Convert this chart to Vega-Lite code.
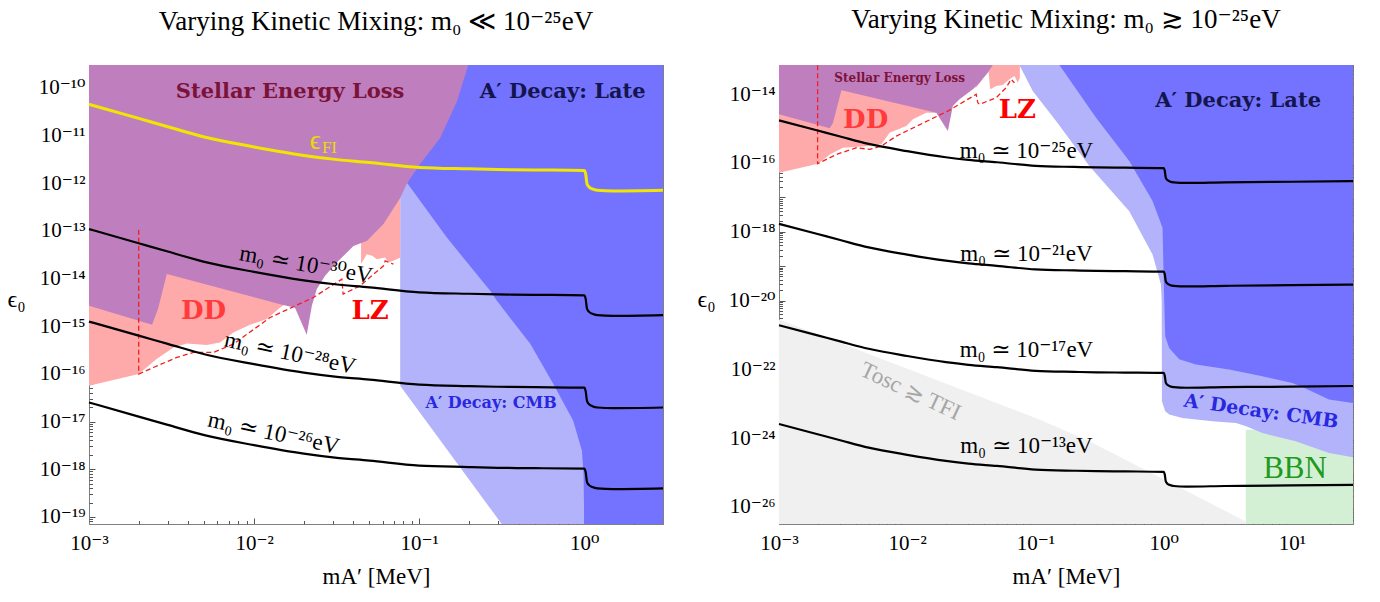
{
  "$schema": "https://vega.github.io/schema/vega-lite/v6.json",
  "padding": {"left": 7, "top": 5, "right": 27, "bottom": 10},
  "bounds": "flush",
  "spacing": 116,
  "config": {
    "view": {"stroke": null},
    "axis": {"domainColor": "#808080", "domainWidth": 1, "tickColor": "#555555", "tickWidth": 1, "labelFont": "Liberation Serif, DejaVu Serif", "labelFontSize": 21, "labelColor": "#000000", "titleFont": "Liberation Serif, DejaVu Serif", "titleFontSize": 23, "titleFontWeight": "normal", "titleColor": "#000000", "grid": false, "labelFlush": false, "labelOverlap": false, "zindex": 1},
    "title": {"font": "Liberation Serif, DejaVu Serif", "fontSize": 27, "fontWeight": "normal", "color": "#000000", "anchor": "middle", "baseline": "top", "offset": 29}
  },
  "hconcat": [
    {
      "width": 574, "height": 459,
      "title": {"text": "Varying Kinetic Mixing: m₀ ≪ 10⁻²⁵eV"},
      "resolve": {"axis": {"x": "independent", "y": "independent"}},
      "encoding": {
        "x": {"field": "m", "type": "quantitative", "scale": {"type": "log", "domain": [0.001, 3], "nice": false}, "axis": null},
        "y": {"field": "e", "type": "quantitative", "scale": {"type": "log", "domain": [7.08e-20, 3.02e-10], "nice": false}, "axis": null}
      },
      "layer": [
        {"data": {"values": [{"m":0.07674,"e":1.12e-12},{"m":0.08414,"e":1.03e-12},{"m":0.1472,"e":7.23e-14},{"m":0.2692,"e":5.52e-15},{"m":0.2958,"e":3.40e-15},{"m":0.471,"e":4.28e-16},{"m":0.6486,"e":6.19e-17},{"m":0.8576,"e":1.04e-17},{"m":0.9683,"e":2.44e-18},{"m":0.9903,"e":8.05e-19},{"m":1.0,"e":7.08e-20},{"m":3,"e":7.08e-20}]},
         "mark": {"type": "area", "color": "#7373ff", "clip": true},
         "encoding": {"y2": {"datum": 3.02e-10}}},
        {"data": {"values": [{"m":0.07674,"e":5.62e-17},{"m":0.3162,"e":7.08e-20},{"m":1.0,"e":7.08e-20}]},
         "mark": {"type": "area", "color": "#b3b3fb", "clip": true},
         "encoding": {"y2": {"datum": 3.02e-10}}},
        {"data": {"values": [{"m":0.07674,"e":1.12e-12},{"m":0.08414,"e":1.03e-12},{"m":0.1472,"e":7.23e-14},{"m":0.2692,"e":5.52e-15},{"m":0.2958,"e":3.40e-15},{"m":0.471,"e":4.28e-16},{"m":0.6486,"e":6.19e-17},{"m":0.8576,"e":1.04e-17},{"m":0.9683,"e":2.44e-18},{"m":0.9903,"e":8.05e-19},{"m":1.0,"e":7.08e-20},{"m":3,"e":7.08e-20}]},
         "mark": {"type": "area", "color": "#7373ff", "clip": true},
         "encoding": {"y2": {"datum": 3.02e-10}}},
        {"data": {"values": [{"m":0.001,"e":5.62e-17},{"m":0.002,"e":9.9e-17},{"m":0.00257,"e":2.04e-16},{"m":0.00325,"e":3.57e-16},{"m":0.00391,"e":4.34e-16},{"m":0.00516,"e":4.02e-16},{"m":0.00622,"e":4.55e-16},{"m":0.00749,"e":7.38e-16},{"m":0.00946,"e":1.07e-15},{"m":0.01194,"e":1.41e-15},{"m":0.01439,"e":2.47e-15},{"m":0.01564,"e":2.94e-15}]},
         "mark": {"type": "area", "color": "#ffaaaa", "clip": true},
         "encoding": {"y2": {"datum": 3.02e-10}}},
        {"data": {"values": [{"m":0.04446,"e":2.03e-14},{"m":0.04819,"e":3.24e-14},{"m":0.05188,"e":2.99e-14},{"m":0.05543,"e":2.55e-14},{"m":0.06223,"e":2.75e-14},{"m":0.06516,"e":2.16e-14},{"m":0.07328,"e":2.55e-14},{"m":0.07674,"e":2.75e-14}]},
         "mark": {"type": "area", "color": "#ffaaaa", "clip": true},
         "encoding": {"y2": {"datum": 3.02e-10}}},
        {"data": {"values": [{"m":0.001,"e":2.68e-15},{"m":0.00241,"e":1.07e-15},{"m":0.00262,"e":2.32e-15},{"m":0.00296,"e":1.24e-14},{"m":0.01439,"e":2.90e-15},{"m":0.0177,"e":2.43e-15},{"m":0.02084,"e":6.61e-16},{"m":0.02239,"e":2.68e-15},{"m":0.02399,"e":6.00e-15},{"m":0.02692,"e":1.14e-14},{"m":0.0317,"e":2.16e-14},{"m":0.04,"e":4.84e-14},{"m":0.04842,"e":6.17e-14},{"m":0.06081,"e":1.40e-13},{"m":0.07674,"e":4.92e-13},{"m":0.08455,"e":1.01e-12},{"m":0.1014,"e":2.54e-12},{"m":0.134,"e":8.91e-12},{"m":0.1698,"e":5.31e-11},{"m":0.1982,"e":3.02e-10}]},
         "mark": {"type": "area", "color": "#bf7fbf", "clip": true},
         "encoding": {"y2": {"datum": 3.02e-10}}},
        {"data": {"values": [{"i":0,"m":0.002,"e":1.05e-13},{"i":1,"m":0.002,"e":9.9e-17},{"i":2,"m":0.002455,"e":1.36e-16},{"i":3,"m":0.003404,"e":2.21e-16},{"i":4,"m":0.004289,"e":2.81e-16},{"i":5,"m":0.005666,"e":2.81e-16},{"i":6,"m":0.007494,"e":4.22e-16},{"i":7,"m":0.0125,"e":1.52e-15},{"i":8,"m":0.02286,"e":4.00e-15},{"i":9,"m":0.03401,"e":9.71e-15},{"i":10,"m":0.03462,"e":4.71e-15},{"i":11,"m":0.04385,"e":7.03e-15},{"i":12,"m":0.06081,"e":1.85e-14},{"i":13,"m":0.06223,"e":2.35e-14},{"i":14,"m":0.06982,"e":2.00e-14}]},
         "mark": {"type": "line", "color": "#f02020", "strokeWidth": 1.3, "strokeDash": [5, 3]},
         "encoding": {"order": {"field": "i", "type": "quantitative"}}},
        {"data": {"values": [{"m":0.001,"e":4.53e-11},{"m":0.002,"e":2.29e-11},{"m":0.003,"e":1.53e-11},{"m":0.005,"e":9.33e-12},{"m":0.01,"e":5.77e-12},{"m":0.02,"e":3.83e-12},{"m":0.03,"e":3.20e-12},{"m":0.05,"e":2.73e-12},{"m":0.1,"e":2.14e-12},{"m":0.2,"e":2.00e-12},{"m":0.3,"e":1.94e-12},{"m":0.5,"e":1.90e-12},{"m":1.0,"e":1.85e-12},{"m":1.02,"e":1.57e-12},{"m":1.04,"e":9.66e-13},{"m":1.07,"e":8.36e-13},{"m":1.12,"e":7.59e-13},{"m":1.2,"e":7.13e-13},{"m":1.5,"e":6.89e-13},{"m":3,"e":7.13e-13}]},
         "mark": {"type": "line", "color": "#f2e600", "strokeWidth": 3, "interpolate": "monotone"},
         "encoding": {
           "x": {"field": "m", "type": "quantitative", "scale": {"type": "log", "domain": [0.001, 3], "nice": false}, "axis": {"orient": "top", "values": [0.002,0.003,0.004,0.005,0.006,0.007,0.008,0.009,0.02,0.03,0.04,0.05,0.06,0.07,0.08,0.09,0.2,0.3,0.4,0.5,0.6,0.7,0.8,0.9,2,3], "tickSize": -3.5, "labels": false, "domain": false, "title": null}},
           "y": {"field": "e", "type": "quantitative", "scale": {"type": "log", "domain": [7.08e-20, 3.02e-10], "nice": false}, "axis": {"orient": "right", "values": [8e-20,9e-20,2e-19,3e-19,4e-19,5e-19,6e-19,7e-19,8e-19,9e-19,2e-18,3e-18,4e-18,5e-18,6e-18,7e-18,8e-18,9e-18,2e-17,3e-17,4e-17,5e-17,6e-17,7e-17,8e-17,9e-17,2e-16,3e-16,4e-16,5e-16,6e-16,7e-16,8e-16,9e-16,2e-15,3e-15,4e-15,5e-15,6e-15,7e-15,8e-15,9e-15,2e-14,3e-14,4e-14,5e-14,6e-14,7e-14,8e-14,9e-14,2e-13,3e-13,4e-13,5e-13,6e-13,7e-13,8e-13,9e-13,2e-12,3e-12,4e-12,5e-12,6e-12,7e-12,8e-12,9e-12,2e-11,3e-11,4e-11,5e-11,6e-11,7e-11,8e-11,9e-11,2e-10,3e-10], "tickSize": -3.5, "labels": false, "domain": false, "title": null}}
         }},
        {"data": {"values": [{"m":0.001,"e":1.09e-13},{"m":0.002,"e":5.50e-14},{"m":0.003,"e":3.68e-14},{"m":0.005,"e":2.24e-14},{"m":0.01,"e":1.38e-14},{"m":0.02,"e":9.18e-15},{"m":0.03,"e":7.67e-15},{"m":0.05,"e":6.55e-15},{"m":0.1,"e":5.14e-15},{"m":0.2,"e":4.79e-15},{"m":0.3,"e":4.65e-15},{"m":0.5,"e":4.56e-15},{"m":1.0,"e":4.45e-15},{"m":1.02,"e":3.76e-15},{"m":1.04,"e":2.32e-15},{"m":1.07,"e":2.00e-15},{"m":1.12,"e":1.82e-15},{"m":1.2,"e":1.71e-15},{"m":1.5,"e":1.65e-15},{"m":3,"e":1.71e-15}]},
         "mark": {"type": "line", "color": "#000000", "strokeWidth": 2.2, "interpolate": "monotone"},
         "encoding": {
           "x": {"field": "m", "type": "quantitative", "scale": {"type": "log", "domain": [0.001, 3], "nice": false}, "axis": {"orient": "bottom", "values": [0.001, 0.01, 0.1, 1], "tickSize": -6, "labelPadding": 14, "labelExpr": "'10'+replace(replace(replace(replace(replace(replace(replace(replace(replace(replace(replace(toString(round(log(datum.value)/LN10)),'-','⁻'),regexp('0','g'),'⁰'),regexp('1','g'),'¹'),regexp('2','g'),'²'),regexp('3','g'),'³'),regexp('4','g'),'⁴'),regexp('5','g'),'⁵'),regexp('6','g'),'⁶'),regexp('7','g'),'⁷'),regexp('8','g'),'⁸'),regexp('9','g'),'⁹')", "title": "mA′ [MeV]", "titleY": 59, "titleBaseline": "alphabetic"}},
           "y": {"field": "e", "type": "quantitative", "scale": {"type": "log", "domain": [7.08e-20, 3.02e-10], "nice": false}, "axis": {"orient": "left", "values": [1e-19,1e-18,1e-17,1e-16,1e-15,1e-14,1e-13,1e-12,1e-11,1e-10], "tickSize": -6, "labelPadding": 10, "labelExpr": "'10'+replace(replace(replace(replace(replace(replace(replace(replace(replace(replace(replace(toString(round(log(datum.value)/LN10)),'-','⁻'),regexp('0','g'),'⁰'),regexp('1','g'),'¹'),regexp('2','g'),'²'),regexp('3','g'),'³'),regexp('4','g'),'⁴'),regexp('5','g'),'⁵'),regexp('6','g'),'⁶'),regexp('7','g'),'⁷'),regexp('8','g'),'⁸'),regexp('9','g'),'⁹')", "title": "ϵ₀", "titleAngle": 0, "titleX": -82, "titleY": 234, "titleAlign": "left", "titleBaseline": "middle", "titleFontSize": 24}}
         }},
        {"data": {"values": [{"m":0.001,"e":1.25e-15},{"m":0.002,"e":6.34e-16},{"m":0.003,"e":4.25e-16},{"m":0.005,"e":2.58e-16},{"m":0.01,"e":1.60e-16},{"m":0.02,"e":1.06e-16},{"m":0.03,"e":8.85e-17},{"m":0.05,"e":7.55e-17},{"m":0.1,"e":5.93e-17},{"m":0.2,"e":5.52e-17},{"m":0.3,"e":5.36e-17},{"m":0.5,"e":5.26e-17},{"m":1.0,"e":5.13e-17},{"m":1.02,"e":4.34e-17},{"m":1.04,"e":2.67e-17},{"m":1.07,"e":2.31e-17},{"m":1.12,"e":2.10e-17},{"m":1.2,"e":1.97e-17},{"m":1.5,"e":1.91e-17},{"m":3,"e":1.97e-17}]},
         "mark": {"type": "line", "color": "#000000", "strokeWidth": 2.2, "interpolate": "monotone"},
         "encoding": {
           "x": {"field": "m", "type": "quantitative", "scale": {"type": "log", "domain": [0.001, 3], "nice": false}, "axis": {"orient": "bottom", "values": [0.002,0.003,0.004,0.005,0.006,0.007,0.008,0.009,0.02,0.03,0.04,0.05,0.06,0.07,0.08,0.09,0.2,0.3,0.4,0.5,0.6,0.7,0.8,0.9,2,3], "tickSize": -3.5, "labels": false, "domain": false, "title": null}},
           "y": {"field": "e", "type": "quantitative", "scale": {"type": "log", "domain": [7.08e-20, 3.02e-10], "nice": false}, "axis": {"orient": "left", "values": [8e-20,9e-20,2e-19,3e-19,4e-19,5e-19,6e-19,7e-19,8e-19,9e-19,2e-18,3e-18,4e-18,5e-18,6e-18,7e-18,8e-18,9e-18,2e-17,3e-17,4e-17,5e-17,6e-17,7e-17,8e-17,9e-17,2e-16,3e-16,4e-16,5e-16,6e-16,7e-16,8e-16,9e-16,2e-15,3e-15,4e-15,5e-15,6e-15,7e-15,8e-15,9e-15,2e-14,3e-14,4e-14,5e-14,6e-14,7e-14,8e-14,9e-14,2e-13,3e-13,4e-13,5e-13,6e-13,7e-13,8e-13,9e-13,2e-12,3e-12,4e-12,5e-12,6e-12,7e-12,8e-12,9e-12,2e-11,3e-11,4e-11,5e-11,6e-11,7e-11,8e-11,9e-11,2e-10,3e-10], "tickSize": -3.5, "labels": false, "domain": false, "title": null}}
         }},
        {"data": {"values": [{"m":0.001,"e":2.51e-17},{"m":0.002,"e":1.27e-17},{"m":0.003,"e":8.51e-18},{"m":0.005,"e":5.18e-18},{"m":0.01,"e":3.20e-18},{"m":0.02,"e":2.12e-18},{"m":0.03,"e":1.77e-18},{"m":0.05,"e":1.51e-18},{"m":0.1,"e":1.19e-18},{"m":0.2,"e":1.11e-18},{"m":0.3,"e":1.07e-18},{"m":0.5,"e":1.05e-18},{"m":1.0,"e":1.03e-18},{"m":1.02,"e":8.69e-19},{"m":1.04,"e":5.36e-19},{"m":1.07,"e":4.63e-19},{"m":1.12,"e":4.21e-19},{"m":1.2,"e":3.95e-19},{"m":1.5,"e":3.82e-19},{"m":3,"e":3.95e-19}]},
         "mark": {"type": "line", "color": "#000000", "strokeWidth": 2.2, "interpolate": "monotone"},
         "encoding": {
           "x": {"field": "m", "type": "quantitative", "scale": {"type": "log", "domain": [0.001, 3], "nice": false}, "axis": {"orient": "top", "values": [0.001, 0.01, 0.1, 1], "tickSize": -6, "labels": false, "title": null}},
           "y": {"field": "e", "type": "quantitative", "scale": {"type": "log", "domain": [7.08e-20, 3.02e-10], "nice": false}, "axis": {"orient": "right", "values": [1e-19,1e-18,1e-17,1e-16,1e-15,1e-14,1e-13,1e-12,1e-11,1e-10], "tickSize": -6, "labels": false, "title": null}}
         }},
        {"data": {"values": [{"m":0.01652,"e":8.32e-11,"t":"Stellar Energy Loss"}]},
         "mark": {"type": "text", "font": "DejaVu Serif", "fontWeight": "bold", "fontSize": 21, "color": "#7b1238"},
         "encoding": {"text": {"field": "t"}}},
        {"data": {"values": [{"m":0.7413,"e":8.20e-11,"t":"A′ Decay: Late"}]},
         "mark": {"type": "text", "font": "DejaVu Serif", "fontWeight": "bold", "fontSize": 21, "color": "#15154d"},
         "encoding": {"text": {"field": "t"}}},
        {"data": {"values": [{"m":0.02344,"e":7.71e-12,"t":"ϵ"}]},
         "mark": {"type": "text", "font": "Liberation Serif, DejaVu Serif", "fontSize": 27, "color": "#e8dc00"},
         "encoding": {"text": {"field": "t"}}},
        {"data": {"values": [{"m":0.02861,"e":5.50e-12,"t":"FI"}]},
         "mark": {"type": "text", "font": "Liberation Serif, DejaVu Serif", "fontSize": 17, "color": "#e8dc00"},
         "encoding": {"text": {"field": "t"}}},
        {"data": {"values": [{"m":0.004943,"e":2.10e-15,"t":"DD"}]},
         "mark": {"type": "text", "font": "DejaVu Serif", "fontWeight": "bold", "fontSize": 26, "color": "#ff3b3b"},
         "encoding": {"text": {"field": "t"}}},
        {"data": {"values": [{"m":0.05047,"e":2.10e-15,"t":"LZ"}]},
         "mark": {"type": "text", "font": "DejaVu Serif", "fontWeight": "bold", "fontSize": 26, "color": "#ff0000"},
         "encoding": {"text": {"field": "t"}}},
        {"data": {"values": [{"m":0.2729,"e":2.48e-17,"t":"A′ Decay: CMB"}]},
         "mark": {"type": "text", "font": "DejaVu Serif", "fontWeight": "bold", "fontSize": 16, "color": "#2828e0"},
         "encoding": {"text": {"field": "t"}}},
        {"data": {"values": [{"m":0.02065,"e":1.94e-14,"t":"m₀ ≃ 10⁻³⁰eV"}]},
         "mark": {"type": "text", "font": "Liberation Serif, DejaVu Serif", "fontSize": 23, "color": "#000000", "angle": 10},
         "encoding": {"text": {"field": "t"}}},
        {"data": {"values": [{"m":0.01652,"e":2.70e-16,"t":"m₀ ≃ 10⁻²⁸eV"},{"m":0.01312,"e":5.69e-18,"t":"m₀ ≃ 10⁻²⁶eV"}]},
         "mark": {"type": "text", "font": "Liberation Serif, DejaVu Serif", "fontSize": 23, "color": "#000000", "angle": 12},
         "encoding": {"text": {"field": "t"}}}
      ]
    },
    {
      "width": 574, "height": 459,
      "title": {"text": "Varying Kinetic Mixing: m₀ ≳ 10⁻²⁵eV"},
      "resolve": {"axis": {"x": "independent", "y": "independent"}},
      "encoding": {
        "x": {"field": "m", "type": "quantitative", "scale": {"type": "log", "domain": [0.001, 30], "nice": false}, "axis": null},
        "y": {"field": "e", "type": "quantitative", "scale": {"type": "log", "domain": [3.16e-27, 7.08e-14], "nice": false}, "axis": null}
      },
      "layer": [
        {"data": {"values": [{"m":0.001,"e":2.80e-21},{"m":0.1074,"e":3.44e-24},{"m":0.2635,"e":8.02e-25},{"m":4.375,"e":3.76e-27}]},
         "mark": {"type": "area", "color": "#f0f0f0", "clip": true},
         "encoding": {"y2": {"datum": 3.16e-27}}},
        {"data": {"values": [{"m":4.375,"m2":30,"e":3.16e-27,"e2":1.75e-24}]},
         "mark": {"type": "rect", "color": "#d4f0d4", "clip": true},
         "encoding": {"x2": {"field": "m2"}, "y2": {"field": "e2"}}},
        {"data": {"values": [{"m":0.075,"e":7.08e-14},{"m":0.09528,"e":1.24e-14},{"m":0.1449,"e":1.66e-15},{"m":0.2635,"e":8.13e-17},{"m":0.5395,"e":3.98e-18},{"m":0.8195,"e":2.18e-19},{"m":0.9528,"e":2.92e-20},{"m":0.9665,"e":9.55e-21},{"m":0.9701,"e":1.17e-23},{"m":1.029,"e":5.98e-24},{"m":1.105,"e":4.80e-24},{"m":1.401,"e":3.82e-24},{"m":2.399,"e":3.06e-24},{"m":3.669,"e":2.73e-24},{"m":4.391,"e":2.19e-24},{"m":5.893,"e":1.40e-24},{"m":10.72,"e":8.01e-25},{"m":19.48,"e":3.66e-25},{"m":30,"e":2.74e-25}]},
         "mark": {"type": "area", "color": "#b3b3fb", "clip": true},
         "encoding": {"y2": {"datum": 7.08e-14}}},
        {"data": {"values": [{"m":0.1538,"e":7.08e-14},{"m":0.2972,"e":2.07e-15},{"m":0.5395,"e":1.14e-16},{"m":0.8196,"e":7.78e-18},{"m":0.9804,"e":1.30e-18},{"m":1.011,"e":9.55e-21},{"m":1.029,"e":9.14e-22},{"m":1.105,"e":4.17e-22},{"m":1.323,"e":1.95e-22},{"m":1.785,"e":1.37e-22},{"m":3.243,"e":9.80e-23},{"m":5.893,"e":6.25e-23},{"m":10.09,"e":3.99e-23},{"m":12.83,"e":2.74e-23},{"m":19.48,"e":1.31e-23},{"m":30,"e":1.04e-23}]},
         "mark": {"type": "area", "color": "#7373ff", "clip": true},
         "encoding": {"y2": {"datum": 7.08e-14}}},
        {"data": {"values": [{"m":0.001,"e":5.19e-17},{"m":0.002016,"e":9.48e-17},{"m":0.002489,"e":1.78e-16},{"m":0.003156,"e":2.77e-16},{"m":0.005094,"e":3.10e-16},{"m":0.006284,"e":3.48e-16},{"m":0.007294,"e":7.57e-16},{"m":0.00984,"e":1.19e-15},{"m":0.01108,"e":1.86e-15},{"m":0.01409,"e":2.89e-15},{"m":0.0169,"e":2.89e-15}]},
         "mark": {"type": "area", "color": "#ffaaaa", "clip": true},
         "encoding": {"y2": {"datum": 7.08e-14}}},
        {"data": {"values": [{"m":0.0341,"e":1.49e-14},{"m":0.03777,"e":2.42e-14},{"m":0.03887,"e":4.73e-14},{"m":0.04305,"e":4.73e-14},{"m":0.04437,"e":1.39e-14},{"m":0.04943,"e":1.73e-14},{"m":0.05563,"e":1.85e-14},{"m":0.06272,"e":2.71e-14},{"m":0.06862,"e":3.39e-14},{"m":0.07278,"e":2.16e-14},{"m":0.07568,"e":3.02e-14}]},
         "mark": {"type": "area", "color": "#ffaaaa", "clip": true},
         "encoding": {"y2": {"datum": 7.08e-14}}},
        {"data": {"values": [{"m":0.001,"e":2.60e-15},{"m":0.002489,"e":1.02e-15},{"m":0.002638,"e":1.48e-15},{"m":0.003069,"e":1.30e-14},{"m":0.01685,"e":2.89e-15},{"m":0.02075,"e":8.49e-16},{"m":0.0227,"e":4.53e-15},{"m":0.02559,"e":7.10e-15},{"m":0.03251,"e":1.39e-14},{"m":0.03664,"e":2.16e-14},{"m":0.04251,"e":4.23e-14},{"m":0.0465,"e":7.08e-14}]},
         "mark": {"type": "area", "color": "#bf7fbf", "clip": true},
         "encoding": {"y2": {"datum": 7.08e-14}}},
        {"data": {"values": [{"i":0,"m":0.002,"e":7.0e-14},{"i":1,"m":0.002,"e":9.48e-17},{"i":2,"m":0.002805,"e":1.78e-16},{"i":3,"m":0.004015,"e":2.77e-16},{"i":4,"m":0.005094,"e":2.49e-16},{"i":5,"m":0.006284,"e":3.10e-16},{"i":6,"m":0.008225,"e":6.07e-16},{"i":7,"m":0.02075,"e":3.24e-15},{"i":8,"m":0.03453,"e":9.93e-15},{"i":9,"m":0.03553,"e":5.65e-15},{"i":10,"m":0.03664,"e":5.08e-15},{"i":11,"m":0.04943,"e":7.91e-15},{"i":12,"m":0.05912,"e":1.55e-14},{"i":13,"m":0.06467,"e":2.71e-14},{"i":14,"m":0.06862,"e":2.16e-14}]},
         "mark": {"type": "line", "color": "#f02020", "strokeWidth": 1.3, "strokeDash": [5, 3]},
         "encoding": {"order": {"field": "i", "type": "quantitative"}}},
        {"data": {"values": [{"m":0.001,"e":1.74e-15},{"m":0.002,"e":8.79e-16},{"m":0.003,"e":5.89e-16},{"m":0.005,"e":3.58e-16},{"m":0.01,"e":2.21e-16},{"m":0.02,"e":1.47e-16},{"m":0.03,"e":1.23e-16},{"m":0.05,"e":1.05e-16},{"m":0.1,"e":8.22e-17},{"m":0.2,"e":7.66e-17},{"m":0.3,"e":7.43e-17},{"m":0.5,"e":7.29e-17},{"m":1.0,"e":7.11e-17},{"m":1.02,"e":6.01e-17},{"m":1.04,"e":3.71e-17},{"m":1.07,"e":3.21e-17},{"m":1.12,"e":2.91e-17},{"m":1.2,"e":2.74e-17},{"m":1.5,"e":2.64e-17},{"m":3,"e":2.74e-17},{"m":10,"e":2.85e-17},{"m":30,"e":2.96e-17}]},
         "mark": {"type": "line", "color": "#000000", "strokeWidth": 2.2, "interpolate": "monotone"},
         "encoding": {
           "x": {"field": "m", "type": "quantitative", "scale": {"type": "log", "domain": [0.001, 30], "nice": false}, "axis": {"orient": "bottom", "values": [0.001, 0.01, 0.1, 1, 10], "tickSize": -6, "labelPadding": 14, "labelExpr": "'10'+replace(replace(replace(replace(replace(replace(replace(replace(replace(replace(replace(toString(round(log(datum.value)/LN10)),'-','⁻'),regexp('0','g'),'⁰'),regexp('1','g'),'¹'),regexp('2','g'),'²'),regexp('3','g'),'³'),regexp('4','g'),'⁴'),regexp('5','g'),'⁵'),regexp('6','g'),'⁶'),regexp('7','g'),'⁷'),regexp('8','g'),'⁸'),regexp('9','g'),'⁹')", "title": "mA′ [MeV]", "titleY": 59, "titleBaseline": "alphabetic"}},
           "y": {"field": "e", "type": "quantitative", "scale": {"type": "log", "domain": [3.16e-27, 7.08e-14], "nice": false}, "axis": {"orient": "left", "values": [1e-26,1e-25,1e-24,1e-23,1e-22,1e-21,1e-20,1e-19,1e-18,1e-17,1e-16,1e-15,1e-14], "tickSize": -6, "labelPadding": 10, "labelExpr": "(round(log(datum.value)/LN10)%2==0) ? ('10'+replace(replace(replace(replace(replace(replace(replace(replace(replace(replace(replace(toString(round(log(datum.value)/LN10)),'-','⁻'),regexp('0','g'),'⁰'),regexp('1','g'),'¹'),regexp('2','g'),'²'),regexp('3','g'),'³'),regexp('4','g'),'⁴'),regexp('5','g'),'⁵'),regexp('6','g'),'⁶'),regexp('7','g'),'⁷'),regexp('8','g'),'⁸'),regexp('9','g'),'⁹')) : ''", "title": "ϵ₀", "titleAngle": 0, "titleX": -82, "titleY": 234, "titleAlign": "left", "titleBaseline": "middle", "titleFontSize": 24}}
         }},
        {"data": {"values": [{"m":0.001,"e":1.70e-18},{"m":0.002,"e":8.59e-19},{"m":0.003,"e":5.75e-19},{"m":0.005,"e":3.50e-19},{"m":0.01,"e":2.16e-19},{"m":0.02,"e":1.44e-19},{"m":0.03,"e":1.20e-19},{"m":0.05,"e":1.02e-19},{"m":0.1,"e":8.04e-20},{"m":0.2,"e":7.48e-20},{"m":0.3,"e":7.26e-20},{"m":0.5,"e":7.13e-20},{"m":1.0,"e":6.95e-20},{"m":1.02,"e":5.87e-20},{"m":1.04,"e":3.62e-20},{"m":1.07,"e":3.13e-20},{"m":1.12,"e":2.84e-20},{"m":1.2,"e":2.67e-20},{"m":1.5,"e":2.58e-20},{"m":3,"e":2.67e-20},{"m":10,"e":2.79e-20},{"m":30,"e":2.90e-20}]},
         "mark": {"type": "line", "color": "#000000", "strokeWidth": 2.2, "interpolate": "monotone"},
         "encoding": {
           "x": {"field": "m", "type": "quantitative", "scale": {"type": "log", "domain": [0.001, 30], "nice": false}, "axis": {"orient": "bottom", "values": [0.002,0.003,0.004,0.005,0.006,0.007,0.008,0.009,0.02,0.03,0.04,0.05,0.06,0.07,0.08,0.09,0.2,0.3,0.4,0.5,0.6,0.7,0.8,0.9,2,3,4,5,6,7,8,9,20,30], "tickSize": -3.5, "labels": false, "domain": false, "title": null}},
           "y": {"field": "e", "type": "quantitative", "scale": {"type": "log", "domain": [3.16e-27, 7.08e-14], "nice": false}, "axis": {"orient": "left", "values": [4e-27,5e-27,6e-27,7e-27,8e-27,9e-27,2e-26,3e-26,4e-26,5e-26,6e-26,7e-26,8e-26,9e-26,2e-25,3e-25,4e-25,5e-25,6e-25,7e-25,8e-25,9e-25,2e-24,3e-24,4e-24,5e-24,6e-24,7e-24,8e-24,9e-24,2e-23,3e-23,4e-23,5e-23,6e-23,7e-23,8e-23,9e-23,2e-22,3e-22,4e-22,5e-22,6e-22,7e-22,8e-22,9e-22,2e-21,3e-21,4e-21,5e-21,6e-21,7e-21,8e-21,9e-21,2e-20,3e-20,4e-20,5e-20,6e-20,7e-20,8e-20,9e-20,2e-19,3e-19,4e-19,5e-19,6e-19,7e-19,8e-19,9e-19,2e-18,3e-18,4e-18,5e-18,6e-18,7e-18,8e-18,9e-18,2e-17,3e-17,4e-17,5e-17,6e-17,7e-17,8e-17,9e-17,2e-16,3e-16,4e-16,5e-16,6e-16,7e-16,8e-16,9e-16,2e-15,3e-15,4e-15,5e-15,6e-15,7e-15,8e-15,9e-15,2e-14,3e-14,4e-14,5e-14,6e-14,7e-14], "tickSize": -3.5, "labels": false, "domain": false, "title": null}}
         }},
        {"data": {"values": [{"m":0.001,"e":1.91e-21},{"m":0.002,"e":9.66e-22},{"m":0.003,"e":6.47e-22},{"m":0.005,"e":3.94e-22},{"m":0.01,"e":2.43e-22},{"m":0.02,"e":1.61e-22},{"m":0.03,"e":1.35e-22},{"m":0.05,"e":1.15e-22},{"m":0.1,"e":9.04e-23},{"m":0.2,"e":8.41e-23},{"m":0.3,"e":8.17e-23},{"m":0.5,"e":8.02e-23},{"m":1.0,"e":7.82e-23},{"m":1.02,"e":6.61e-23},{"m":1.04,"e":4.07e-23},{"m":1.07,"e":3.52e-23},{"m":1.12,"e":3.20e-23},{"m":1.2,"e":3.01e-23},{"m":1.5,"e":2.90e-23},{"m":3,"e":3.01e-23},{"m":10,"e":3.13e-23},{"m":30,"e":3.26e-23}]},
         "mark": {"type": "line", "color": "#000000", "strokeWidth": 2.2, "interpolate": "monotone"},
         "encoding": {
           "x": {"field": "m", "type": "quantitative", "scale": {"type": "log", "domain": [0.001, 30], "nice": false}, "axis": {"orient": "top", "values": [0.001, 0.01, 0.1, 1, 10], "tickSize": -6, "labels": false, "title": null}},
           "y": {"field": "e", "type": "quantitative", "scale": {"type": "log", "domain": [3.16e-27, 7.08e-14], "nice": false}, "axis": {"orient": "right", "values": [1e-26,1e-25,1e-24,1e-23,1e-22,1e-21,1e-20,1e-19,1e-18,1e-17,1e-16,1e-15,1e-14], "tickSize": -6, "labels": false, "title": null}}
         }},
        {"data": {"values": [{"m":0.001,"e":2.55e-24},{"m":0.002,"e":1.29e-24},{"m":0.003,"e":8.65e-25},{"m":0.005,"e":5.26e-25},{"m":0.01,"e":3.25e-25},{"m":0.02,"e":2.16e-25},{"m":0.03,"e":1.80e-25},{"m":0.05,"e":1.54e-25},{"m":0.1,"e":1.21e-25},{"m":0.2,"e":1.12e-25},{"m":0.3,"e":1.09e-25},{"m":0.5,"e":1.07e-25},{"m":1.0,"e":1.04e-25},{"m":1.02,"e":8.83e-26},{"m":1.04,"e":5.45e-26},{"m":1.07,"e":4.71e-26},{"m":1.12,"e":4.28e-26},{"m":1.2,"e":4.02e-26},{"m":1.5,"e":3.88e-26},{"m":3,"e":4.02e-26},{"m":10,"e":4.19e-26},{"m":30,"e":4.36e-26}]},
         "mark": {"type": "line", "color": "#000000", "strokeWidth": 2.2, "interpolate": "monotone"},
         "encoding": {
           "x": {"field": "m", "type": "quantitative", "scale": {"type": "log", "domain": [0.001, 30], "nice": false}, "axis": {"orient": "top", "values": [0.002,0.003,0.004,0.005,0.006,0.007,0.008,0.009,0.02,0.03,0.04,0.05,0.06,0.07,0.08,0.09,0.2,0.3,0.4,0.5,0.6,0.7,0.8,0.9,2,3,4,5,6,7,8,9,20,30], "tickSize": -3.5, "labels": false, "domain": false, "title": null}},
           "y": {"field": "e", "type": "quantitative", "scale": {"type": "log", "domain": [3.16e-27, 7.08e-14], "nice": false}, "axis": {"orient": "right", "values": [4e-27,5e-27,6e-27,7e-27,8e-27,9e-27,2e-26,3e-26,4e-26,5e-26,6e-26,7e-26,8e-26,9e-26,2e-25,3e-25,4e-25,5e-25,6e-25,7e-25,8e-25,9e-25,2e-24,3e-24,4e-24,5e-24,6e-24,7e-24,8e-24,9e-24,2e-23,3e-23,4e-23,5e-23,6e-23,7e-23,8e-23,9e-23,2e-22,3e-22,4e-22,5e-22,6e-22,7e-22,8e-22,9e-22,2e-21,3e-21,4e-21,5e-21,6e-21,7e-21,8e-21,9e-21,2e-20,3e-20,4e-20,5e-20,6e-20,7e-20,8e-20,9e-20,2e-19,3e-19,4e-19,5e-19,6e-19,7e-19,8e-19,9e-19,2e-18,3e-18,4e-18,5e-18,6e-18,7e-18,8e-18,9e-18,2e-17,3e-17,4e-17,5e-17,6e-17,7e-17,8e-17,9e-17,2e-16,3e-16,4e-16,5e-16,6e-16,7e-16,8e-16,9e-16,2e-15,3e-15,4e-15,5e-15,6e-15,7e-15,8e-15,9e-15,2e-14,3e-14,4e-14,5e-14,6e-14,7e-14], "tickSize": -3.5, "labels": false, "domain": false, "title": null}}
         }},
        {"data": {"values": [{"m":0.00873,"e":2.96e-14,"t":"Stellar Energy Loss"}]},
         "mark": {"type": "text", "font": "DejaVu Serif", "fontWeight": "bold", "fontSize": 12, "color": "#7b1238"},
         "encoding": {"text": {"field": "t"}}},
        {"data": {"values": [{"m":0.004742,"e":1.83e-15,"t":"DD"}]},
         "mark": {"type": "text", "font": "DejaVu Serif", "fontWeight": "bold", "fontSize": 26, "color": "#ff3b3b"},
         "encoding": {"text": {"field": "t"}}},
        {"data": {"values": [{"m":0.07244,"e":3.58e-15,"t":"LZ"}]},
         "mark": {"type": "text", "font": "DejaVu Serif", "fontWeight": "bold", "fontSize": 26, "color": "#ff0000"},
         "encoding": {"text": {"field": "t"}}},
        {"data": {"values": [{"m":3.811,"e":6.34e-15,"t":"A′ Decay: Late"}]},
         "mark": {"type": "text", "font": "DejaVu Serif", "fontWeight": "bold", "fontSize": 21, "color": "#15154d"},
         "encoding": {"text": {"field": "t"}}},
        {"data": {"values": [{"m":0.08511,"e":2.22e-16,"t":"m₀ ≃ 10⁻²⁵eV"},{"m":0.08511,"e":2.23e-19,"t":"m₀ ≃ 10⁻²¹eV"},{"m":0.08511,"e":3.57e-22,"t":"m₀ ≃ 10⁻¹⁷eV"},{"m":0.08511,"e":5.73e-25,"t":"m₀ ≃ 10⁻¹³eV"}]},
         "mark": {"type": "text", "font": "Liberation Serif, DejaVu Serif", "fontSize": 23, "color": "#000000"},
         "encoding": {"text": {"field": "t"}}},
        {"data": {"values": [{"m":0.01062,"e":2.29e-23,"t":"Tosc ≳ TFI"}]},
         "mark": {"type": "text", "font": "Liberation Serif, DejaVu Serif", "fontSize": 23, "color": "#a6a6a6", "angle": 25},
         "encoding": {"text": {"field": "t"}}},
        {"data": {"values": [{"m":5.754,"e":5.98e-24,"t":"A′ Decay: CMB"}]},
         "mark": {"type": "text", "font": "DejaVu Serif", "fontWeight": "bold", "fontSize": 19, "color": "#2828e0", "angle": 8},
         "encoding": {"text": {"field": "t"}}},
        {"data": {"values": [{"m":10.59,"e":1.23e-25,"t":"BBN"}]},
         "mark": {"type": "text", "font": "Liberation Serif, DejaVu Serif", "fontSize": 31, "color": "#1f9a1f"},
         "encoding": {"text": {"field": "t"}}}
      ]
    }
  ]
}
